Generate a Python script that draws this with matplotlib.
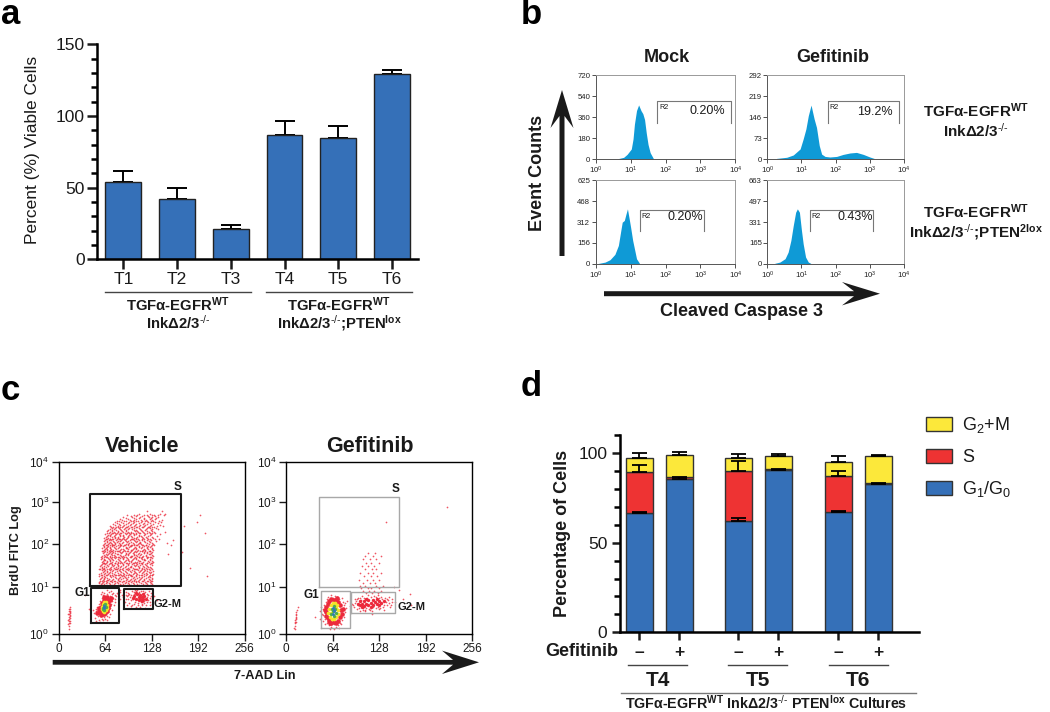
import matplotlib
matplotlib.use('Agg')
import numpy as np
import matplotlib.pyplot as plt
from matplotlib.lines import Line2D
from matplotlib.patches import Polygon
from matplotlib.ticker import MultipleLocator, NullLocator

plt.rcParams['font.family'] = ['Liberation Sans', 'DejaVu Sans']
plt.rcParams['mathtext.fontset'] = 'custom'
plt.rcParams['mathtext.rm'] = 'Liberation Sans'
plt.rcParams['mathtext.it'] = 'Liberation Sans:italic'
plt.rcParams['mathtext.bf'] = 'Liberation Sans:bold'
plt.rcParams['mathtext.default'] = 'regular'

W, H = 1050, 712
BLUE = '#3570b8'
RED = '#ee3333'
YELLOW = '#fce83a'
HIST = '#0f9ad6'
DOT = '#ec2a3c'
INK = '#1a1a1a'

# ============================================================
# Panel a
# ============================================================
a_labels = ['T1', 'T2', 'T3', 'T4', 'T5', 'T6']
a_values = [54, 42, 21, 87, 85, 129.5]
a_errors = [7.5, 8, 3, 9.5, 8, 2.5]

# ============================================================
# Panel b, histograms: position as log10 of the channel, then counts
# ============================================================
mock_top_pos = [0.64, 0.80, 0.90, 1.02, 1.07, 1.11, 1.17, 1.23, 1.30, 1.35, 1.40, 1.45, 1.50, 1.56, 1.66]
mock_top_cnt = [3, 14, 40, 86, 172, 300, 417, 465, 415, 390, 340, 222, 125, 55, 0]
gef_top_pos = [0.27, 0.57, 0.76, 0.96, 1.05, 1.13, 1.20, 1.28, 1.37, 1.44, 1.52, 1.59, 1.69, 1.83, 2.03, 2.22, 2.42, 2.61, 2.81, 3.00, 3.15]
gef_top_cnt = [2, 6, 14, 35, 70, 105, 151, 188, 140, 110, 47, 17, 9, 7, 9, 16, 21, 23, 16, 7, 1]
mock_bot_pos = [0.08, 0.27, 0.41, 0.55, 0.65, 0.72, 0.76, 0.82, 0.87, 0.91, 0.96, 1.00, 1.06, 1.13, 1.17, 1.25]
mock_bot_cnt = [2, 12, 30, 70, 137, 249, 311, 324, 374, 411, 336, 274, 174, 87, 37, 5]
gef_bot_pos = [0.22, 0.37, 0.52, 0.61, 0.69, 0.76, 0.83, 0.88, 0.94, 1.00, 1.05, 1.12, 1.20, 1.27]
gef_bot_cnt = [3, 13, 40, 92, 185, 304, 409, 436, 409, 264, 158, 53, 13, 3]

# ============================================================
# Panel c: channel, log10 of the signal
# ============================================================
s_rows_left = {
    1.16: [58, 63, 71, 76, 84, 89, 97, 103, 108, 116, 122, 128],
    1.20: [56, 61, 67, 74, 80, 87, 92, 99, 106, 111, 119, 125],
    1.24: [59, 65, 70, 78, 83, 90, 95, 101, 109, 114, 121, 127],
    1.28: [57, 62, 69, 75, 82, 86, 94, 100, 105, 112, 118, 124, 129],
    1.32: [60, 64, 72, 77, 85, 91, 96, 104, 110, 115, 123, 126],
    1.36: [58, 66, 73, 79, 81, 88, 93, 98, 107, 113, 120, 128],
    1.40: [56, 63, 68, 76, 84, 90, 97, 102, 108, 117, 122, 130],
    1.44: [61, 67, 71, 78, 86, 92, 99, 105, 111, 116, 124, 127],
    1.48: [59, 64, 70, 75, 83, 89, 95, 101, 109, 113, 119, 126],
    1.52: [57, 62, 69, 77, 80, 87, 94, 103, 106, 115, 121, 129],
    1.56: [60, 65, 72, 79, 85, 91, 98, 100, 110, 118, 123, 125],
    1.60: [58, 66, 74, 76, 82, 88, 96, 104, 107, 112, 120, 128],
    1.64: [61, 63, 71, 78, 84, 93, 97, 102, 111, 114, 122, 127],
    1.68: [59, 67, 73, 81, 86, 90, 99, 105, 108, 116, 124, 130],
    1.72: [62, 64, 70, 75, 83, 92, 95, 101, 109, 117, 119, 126],
    1.76: [60, 68, 72, 77, 85, 89, 94, 103, 106, 113, 121, 128],
    1.80: [58, 65, 71, 79, 82, 87, 98, 100, 110, 115, 123, 125],
    1.84: [63, 66, 74, 76, 84, 91, 96, 104, 107, 112, 120, 129],
    1.88: [61, 69, 73, 78, 86, 93, 97, 102, 111, 118, 122, 127],
    1.92: [59, 64, 72, 80, 83, 88, 95, 105, 108, 114, 124, 126],
    1.96: [62, 67, 70, 75, 85, 90, 99, 101, 109, 116, 119, 130],
    2.00: [60, 65, 71, 77, 82, 92, 94, 103, 106, 113, 121, 128],
    2.04: [63, 68, 74, 79, 84, 89, 98, 100, 110, 117, 123, 127],
    2.08: [61, 66, 73, 76, 86, 91, 96, 104, 107, 115, 120, 131],
    2.12: [64, 69, 72, 78, 83, 87, 97, 102, 111, 112, 122, 129],
    2.16: [62, 67, 75, 81, 85, 93, 95, 105, 108, 118, 124, 134],
    2.20: [65, 70, 74, 80, 84, 90, 99, 101, 109, 114, 126, 138],
    2.24: [63, 68, 77, 82, 88, 94, 103, 106, 116, 121, 130],
    2.28: [66, 71, 76, 85, 89, 96, 100, 110, 113, 123, 135],
    2.32: [64, 72, 79, 83, 92, 98, 104, 107, 119, 127, 140],
    2.36: [67, 74, 78, 86, 91, 97, 102, 111, 117, 125, 133],
    2.40: [66, 73, 81, 87, 93, 105, 108, 115, 122, 129],
    2.44: [70, 76, 84, 90, 95, 101, 112, 120, 128, 137],
    2.48: [72, 79, 85, 94, 99, 106, 114, 124, 131],
    2.52: [71, 82, 88, 96, 103, 110, 118, 126, 135, 143],
    2.56: [75, 83, 92, 100, 107, 116, 121, 130],
    2.60: [77, 86, 97, 104, 113, 123, 133, 141],
    2.64: [80, 90, 102, 109, 119, 127, 138],
    2.68: [84, 95, 106, 117, 125, 132],
    2.72: [88, 101, 112, 124, 129, 136],
    2.76: [94, 108, 121, 131, 145],
    2.80: [110, 126, 139, 146],
    2.86: [122, 142],
}
s_rows_left_between = {
    1.14: [60, 67, 73, 81, 86, 94, 100, 111, 119, 125],
    1.18: [55, 59, 65, 69, 78, 82, 91, 95, 102, 113, 120, 127],
    1.22: [57, 63, 72, 76, 85, 88, 97, 104, 107, 116, 123, 129],
    1.26: [61, 66, 68, 74, 81, 92, 98, 103, 110, 117, 125],
    1.30: [58, 63, 67, 79, 83, 88, 93, 102, 108, 113, 120, 128],
    1.34: [56, 62, 70, 75, 87, 90, 99, 101, 106, 118, 124],
    1.38: [60, 65, 71, 77, 83, 86, 95, 100, 111, 115, 126, 129],
    1.42: [58, 64, 69, 74, 81, 89, 94, 104, 107, 114, 120, 125],
    1.46: [62, 66, 73, 80, 85, 91, 98, 103, 112, 118, 122, 130],
    1.50: [56, 61, 67, 72, 79, 84, 93, 97, 105, 108, 117, 124],
    1.54: [59, 63, 70, 76, 82, 88, 96, 102, 111, 114, 120, 127],
    1.58: [57, 62, 68, 75, 81, 86, 93, 99, 105, 109, 116, 122],
    1.62: [60, 64, 69, 73, 80, 89, 95, 101, 108, 115, 119, 126],
    1.66: [63, 65, 72, 77, 82, 87, 94, 103, 106, 113, 121, 128],
    1.70: [61, 66, 71, 79, 85, 91, 97, 100, 110, 112, 123, 129],
    1.74: [58, 63, 69, 74, 81, 88, 96, 102, 107, 115, 118, 125],
    1.78: [62, 67, 73, 76, 83, 90, 93, 105, 111, 114, 122, 127],
    1.82: [60, 64, 70, 78, 86, 89, 99, 101, 108, 116, 120, 130],
    1.86: [65, 68, 72, 80, 82, 92, 95, 103, 109, 113, 124, 126],
    1.90: [63, 66, 71, 75, 84, 87, 98, 104, 106, 117, 121, 128],
    1.94: [61, 69, 74, 77, 81, 91, 94, 100, 112, 115, 119, 125],
    1.98: [64, 67, 72, 79, 86, 88, 96, 102, 107, 118, 123, 129],
    2.02: [62, 66, 70, 76, 83, 93, 97, 105, 111, 114, 122, 126],
    2.06: [65, 71, 75, 81, 85, 90, 99, 101, 108, 116, 120, 128],
    2.10: [63, 68, 73, 78, 84, 92, 95, 103, 109, 113, 124, 130],
    2.14: [66, 70, 76, 80, 88, 94, 100, 106, 112, 119, 125],
    2.18: [64, 69, 72, 79, 86, 91, 98, 104, 110, 115, 121, 127],
    2.22: [67, 71, 75, 83, 87, 93, 102, 107, 117, 123, 132],
    2.26: [65, 73, 78, 81, 90, 95, 101, 108, 114, 120, 128],
    2.30: [68, 70, 77, 84, 88, 97, 103, 111, 118, 125],
    2.34: [69, 75, 80, 85, 94, 99, 106, 112, 122, 129],
    2.38: [71, 76, 82, 89, 95, 100, 109, 116, 124, 131],
    2.42: [68, 74, 79, 86, 92, 103, 107, 113, 119, 127],
    2.46: [73, 78, 83, 91, 97, 104, 110, 121, 126, 134],
    2.50: [75, 81, 87, 93, 101, 108, 116, 123, 129],
    2.54: [77, 84, 90, 98, 105, 112, 119, 127, 139],
    2.58: [80, 89, 95, 102, 110, 117, 125, 136],
    2.62: [83, 93, 100, 107, 115, 122, 130],
    2.66: [87, 98, 104, 113, 120, 128, 142],
    2.70: [92, 103, 110, 118, 127, 134],
    2.74: [99, 106, 115, 123, 133],
    2.78: [104, 118, 128, 137],
}
outliers_left = [(194, 2.77), (191, 2.61), (201, 2.34), (172, 2.52), (158, 2.19), (149, 2.11),
                 (170, 1.91), (150, 1.85), (181, 1.53), (204, 1.35), (155, 2.06), (146, 2.38), (36, 0.90)]
ribbon_left = [(15, 0.62), (16, 0.58), (14, 0.54), (15, 0.50), (13, 0.46), (16, 0.44), (14, 0.40), (15, 0.36),
               (13, 0.32), (14, 0.30), (15, 0.26), (13, 0.22), (14, 0.18), (14, 0.12), (15, 0.48), (14, 0.34),
               (15, 0.42), (14, 0.46), (15, 0.30), (14, 0.24), (16, 0.52), (14, 0.58)]
g1_sparse_left = [(50, 0.36), (52, 0.30), (54, 0.42), (49, 0.48), (52, 0.53), (55, 0.33), (57, 0.28), (59, 0.35),
                  (61, 0.31), (63, 0.38), (56, 0.47), (53, 0.62), (51, 0.58), (55, 0.70), (57, 0.77), (59, 0.83),
                  (61, 0.90), (63, 0.95), (65, 0.86), (67, 0.92), (69, 0.97), (71, 0.88), (73, 0.93), (75, 0.84),
                  (77, 0.90), (79, 0.87), (74, 0.76), (72, 0.70), (76, 0.66), (70, 0.60), (73, 0.55), (68, 0.50),
                  (71, 0.45), (66, 0.42), (69, 0.38), (64, 0.34), (58, 0.41), (60, 0.44), (66, 0.32), (77, 0.74),
                  (82, 0.92), (85, 0.80), (83, 0.88), (47, 0.55), (42, 0.58), (80, 0.95), (72, 1.00), (66, 1.03),
                  (60, 0.98), (58, 0.93), (84, 0.98), (87, 0.90), (78, 0.81), (75, 0.96)]
g1_red_left = [(56, 0.55), (58, 0.62), (60, 0.72), (62, 0.78), (64, 0.82), (66, 0.80), (68, 0.74), (69, 0.68),
               (68, 0.60), (66, 0.54), (64, 0.48), (62, 0.45), (60, 0.47), (57, 0.50), (59, 0.56), (65, 0.72),
               (63, 0.86), (70, 0.78), (55, 0.60), (72, 0.84), (58, 0.44), (67, 0.86), (53, 0.48)]
g1_yellow_left = [(59, 0.58), (60, 0.63), (61, 0.70), (63, 0.74), (65, 0.74), (66, 0.68), (66, 0.61), (65, 0.55),
                  (63, 0.51), (61, 0.52)]
g1_green_left = [(60.5, 0.60), (62, 0.66), (64, 0.69), (64.5, 0.62), (63, 0.56), (61.5, 0.58)]
g1_blue_left = [(62, 0.62), (63, 0.65), (62.5, 0.60)]
g2_sparse_left = [(92, 0.98), (95, 0.90), (93, 0.80), (97, 0.72), (99, 0.64), (94, 0.68), (101, 1.00), (104, 0.97),
                  (100, 0.60), (103, 0.70), (106, 0.62), (108, 1.02), (110, 0.98), (112, 0.63), (114, 0.70),
                  (116, 1.00), (118, 0.96), (120, 0.67), (122, 0.73), (123, 0.90), (125, 0.84), (127, 0.95),
                  (126, 0.74), (128, 0.80), (98, 0.85), (96, 0.96), (119, 0.60), (109, 0.72), (131, 0.88), (88, 0.85),
                  (84, 1.02), (135, 0.79), (102, 0.82), (124, 1.0), (91, 0.74), (94, 0.87), (97, 0.93), (99, 0.78),
                  (101, 0.68), (103, 0.92), (105, 0.74), (107, 0.99), (109, 0.66), (111, 0.95), (113, 0.74),
                  (115, 0.66), (117, 0.76), (119, 0.97), (121, 0.92), (123, 0.78), (125, 0.66), (127, 0.88),
                  (129, 0.70), (96, 0.82), (100, 0.90), (92, 0.90), (121, 0.86), (118, 0.72), (105, 1.01), (113, 1.0)]
g2_red_left = [(104, 0.88), (106, 0.82), (108, 0.92), (110, 0.86), (112, 0.90), (112, 0.80), (114, 0.86), (116, 0.92),
               (116, 0.82), (118, 0.88), (110, 0.78), (106, 0.94), (102, 0.84), (120, 0.80), (114, 0.76)]

s_rows_right = {
    0.94: [110, 118, 126],
    1.00: [106, 114, 121, 130],
    1.06: [103, 112, 117, 128],
    1.12: [101, 109, 124, 133],
    1.18: [105, 115, 122],
    1.26: [100, 111, 119, 127],
    1.34: [107, 116, 125],
    1.42: [102, 113, 120, 131],
    1.50: [108, 118, 124],
    1.58: [104, 112, 121],
    1.66: [110, 117, 127],
    1.74: [106, 115, 123],
    1.82: [109, 119, 130],
    1.88: [112, 122],
}
outliers_right = [(221, 2.96), (137, 2.61), (170, 0.93), (160, 0.80), (172, 0.66), (155, 1.02), (148, 1.10), (40, 0.38)]
ribbon_right = [(16, 0.62), (15, 0.56), (14, 0.50), (14, 0.44), (13, 0.40), (14, 0.36), (12, 0.32), (13, 0.28),
                (12, 0.24), (12, 0.18), (11, 0.14), (12, 0.10), (13, 0.34), (12, 0.28), (13, 0.46)]
g1_sparse_right = [(51, 0.30), (53, 0.22), (55, 0.38), (49, 0.46), (50, 0.58), (52, 0.68), (54, 0.74), (56, 0.82),
                   (58, 0.86), (61, 0.90), (64, 0.84), (67, 0.88), (70, 0.85), (73, 0.80), (76, 0.83), (78, 0.74),
                   (80, 0.68), (82, 0.60), (81, 0.50), (79, 0.40), (77, 0.32), (74, 0.26), (71, 0.20), (68, 0.16),
                   (65, 0.22), (62, 0.16), (59, 0.20), (56, 0.26), (47, 0.34), (84, 0.76), (46, 0.52), (60, 0.12),
                   (48, 0.62), (51, 0.44), (53, 0.34), (79, 0.58), (81, 0.72), (75, 0.22), (72, 0.14), (66, 0.10)]
g1_red_right = [(54, 0.50), (55, 0.62), (57, 0.70), (59, 0.76), (62, 0.80), (65, 0.78), (68, 0.78), (71, 0.74),
                (74, 0.66), (75, 0.56), (76, 0.46), (74, 0.38), (71, 0.30), (68, 0.26), (65, 0.28), (62, 0.26),
                (59, 0.30), (57, 0.36), (55, 0.42), (78, 0.58), (53, 0.56), (70, 0.84), (60, 0.24)]
g1_yellow_right = [(58, 0.48), (59, 0.58), (61, 0.68), (64, 0.72), (67, 0.72), (70, 0.66), (71, 0.56), (71, 0.46),
                   (69, 0.38), (66, 0.34), (63, 0.34), (60, 0.38), (61, 0.48), (68, 0.60)]
g1_green_right = [(62, 0.46), (63, 0.58), (65, 0.64), (67, 0.58), (68, 0.48), (65, 0.42), (64, 0.52)]
g1_blue_right = [(64, 0.60), (66, 0.56), (64, 0.47), (65, 0.52)]
g2_sparse_right = [(93, 0.62), (95, 0.72), (94, 0.80), (97, 0.58), (99, 0.84), (101, 0.54), (104, 0.88), (106, 0.56),
                   (109, 0.52), (112, 0.90), (115, 0.56), (118, 0.54), (121, 0.88), (124, 0.60), (127, 0.57),
                   (130, 0.86), (133, 0.62), (136, 0.84), (138, 0.66), (140, 0.78), (142, 0.72), (144, 0.68),
                   (146, 0.80), (135, 0.56), (90, 0.70), (103, 0.78), (110, 0.60), (88, 0.64), (150, 0.74),
                   (126, 0.90), (118, 0.46), (141, 0.86), (99, 0.66), (107, 0.84), (96, 0.76), (92, 0.68), (100, 0.60),
                   (102, 0.84), (105, 0.60), (108, 0.56), (111, 0.84), (114, 0.58), (117, 0.60), (120, 0.62),
                   (123, 0.86), (126, 0.62), (129, 0.60), (132, 0.80), (135, 0.66), (137, 0.74), (139, 0.82),
                   (143, 0.62), (145, 0.74), (97, 0.82), (116, 0.86), (128, 0.84)]
g2_red_right = [(98, 0.70), (101, 0.66), (101, 0.76), (104, 0.70), (107, 0.64), (107, 0.76), (110, 0.70), (113, 0.66),
                (113, 0.78), (116, 0.72), (119, 0.68), (119, 0.78), (122, 0.74), (125, 0.70), (125, 0.80),
                (128, 0.76), (131, 0.72), (134, 0.76), (104, 0.62), (116, 0.62), (128, 0.66), (110, 0.80)]

# gates: channel from, channel to, log signal from, log signal to
gates_left = [(43.1, 168.0, 1.12, 3.268), (44.0, 83.6, 0.257, 1.058), (90.4, 129.4, 0.568, 1.043)]
gates_right = [(45.4, 154.6, 1.097, 3.198), (47.3, 87.2, 0.125, 1.004), (89.5, 150.0, 0.475, 0.965)]
c_xticks = [0, 64, 128, 192, 256]
c_ytick_pos = [0, 1.097, 2.086, 3.082, 4]

# ============================================================
# Panel d
# ============================================================
d_pos = [1, 2, 3.475, 4.475, 5.975, 6.975]
d_signs = ['\u2013', '+', '\u2013', '+', '\u2013', '+']
g1_values = [66.5, 85.8, 62.2, 90.7, 67, 82.7]
s_values = [23.3, 0.8, 27.7, 0.5, 20.3, 0.5]
g2_values = [7.4, 12.4, 7.5, 7.5, 8, 15.1]
g1_err = [0.9, 0.9, 1.8, 0.5, 0.6, 0.5]
s_err = [3.7, 0, 6, 0, 3, 0]
g2_err = [3, 1.7, 2.2, 1.1, 3, 1]

fig = plt.figure(figsize=(W / 100, H / 100), dpi=100, facecolor='white')


def px_axes(x0, y0, x1, y1):
    return fig.add_axes([x0 / W, 1 - y1 / H, (x1 - x0) / W, (y1 - y0) / H])


def ptext(x, y, s, size, **kw):
    kw.setdefault('color', INK)
    fig.text(x / W, 1 - y / H, s, fontsize=size, ha=kw.pop('ha', 'center'), va=kw.pop('va', 'center'), **kw)


def pline(x0, y0, x1, y1, lw=1.0, color='#444444'):
    fig.add_artist(Line2D([x0 / W, x1 / W], [1 - y0 / H, 1 - y1 / H], lw=lw, color=color))


def big_arrow(tail, tip, half_shaft, head_len, notch, half_head):
    # black arrow with a swept back head, corners given in figure pixels
    (tx, ty), (hx, hy) = tail, tip
    d = np.array([hx - tx, hy - ty], dtype=float)
    d /= np.hypot(*d)
    n = np.array([-d[1], d[0]])
    t, h = np.array(tail, float), np.array(tip, float)
    pts = [t + n * half_shaft, h - d * notch + n * half_shaft, h - d * head_len + n * half_head, h,
           h - d * head_len - n * half_head, h - d * notch - n * half_shaft, t - n * half_shaft]
    pts = [(p[0] / W, 1 - p[1] / H) for p in pts]
    fig.add_artist(Polygon(pts, closed=True, facecolor=INK, edgecolor='none', transform=fig.transFigure))


# panel letters
ptext(1, 15, 'a', 25, ha='left', fontweight='bold', color='black')
ptext(521, 15, 'b', 25, ha='left', fontweight='bold', color='black')
ptext(1, 391, 'c', 25, ha='left', fontweight='bold', color='black')
ptext(521, 387, 'd', 25, ha='left', fontweight='bold', color='black')

# ---------- a ----------
ax = px_axes(97, 44.5, 418, 259.5)
xa = np.arange(1, 7)
ax.bar(xa, a_values, width=0.67, color=BLUE, edgecolor='#222222', linewidth=1.0, zorder=2)
ax.errorbar(xa, a_values, yerr=[np.zeros(6), a_errors], fmt='none', ecolor='black', elinewidth=1.4,
            capsize=7.2, capthick=1.4, zorder=1)
ax.set_xlim(0.507, 6.487)
ax.set_ylim(0, 150)
ax.set_xticks(xa)
ax.set_xticklabels(a_labels)
ax.yaxis.set_major_locator(MultipleLocator(50))
ax.yaxis.set_minor_locator(MultipleLocator(10))
for side in ['top', 'right']:
    ax.spines[side].set_visible(False)
for side in ['left', 'bottom']:
    ax.spines[side].set_linewidth(1.8)
ax.tick_params(axis='both', which='major', labelsize=12.5, width=1.8, length=7, pad=2, colors=INK)
ax.tick_params(axis='y', which='minor', width=1.8, length=4.5)
ptext(33, 150, 'Percent (%) Viable Cells', 12.5, rotation=90)
pline(105, 292, 251, 292)
pline(266, 292, 412, 292)
ptext(178, 305, r'TGF$\alpha$-EGFR$^{WT}$', 10.7, fontweight='bold')
ptext(178, 323, r'Ink$\Delta$2/3$^{\text{-/-}}$', 10.7, fontweight='bold')
ptext(339, 305, r'TGF$\alpha$-EGFR$^{WT}$', 10.7, fontweight='bold')
ptext(339, 323, r'Ink$\Delta$2/3$^{\text{-/-}}$;PTEN$^{lox}$', 10.7, fontweight='bold')

# ---------- b ----------
hist_panels = [
    (595.7, 75.3, 735.3, 159, mock_top_pos, mock_top_cnt, [0, 180, 360, 540, 720], (58, 7350, 313, 499), (664.5, 107.5), (707, 111), '0.20%'),
    (767.3, 75.3, 904, 159, gef_top_pos, gef_top_cnt, [0, 73, 146, 219, 292], (60, 7140, 127, 202), (834, 107.5), (875, 112), '19.2%'),
    (595.7, 180.3, 735.3, 263.7, mock_bot_pos, mock_bot_cnt, [0, 156, 312, 468, 625], (18.2, 1268, 245, 405), (645.5, 216), (685, 217), '0.20%'),
    (767.3, 180.3, 904, 263.7, gef_bot_pos, gef_bot_cnt, [0, 165, 331, 497, 663], (18.1, 1265, 260, 430), (816.5, 216), (855, 217), '0.43%'),
]
for x0, y0, x1, y1, pos, cnt, yt, gate, r2_xy, pct_xy, pct in hist_panels:
    ax = px_axes(x0, y0, x1, y1)
    ax.fill_between(10 ** np.array(pos), cnt, 0, color=HIST, linewidth=0)
    ax.set_xscale('log')
    ax.set_xlim(1, 1e4)
    ax.set_ylim(0, yt[-1])
    ax.set_yticks(yt)
    ax.xaxis.set_minor_locator(NullLocator())
    ax.tick_params(axis='both', labelsize=5.6, width=0.6, length=3, pad=1, color='#333333', labelcolor='#222222')
    for side in ['top', 'right']:
        ax.spines[side].set_color('#999999')
    for side in ax.spines:
        ax.spines[side].set_linewidth(0.7)
    ax.spines['bottom'].set_color('#555555')
    ax.spines['left'].set_color('#555555')
    gx0, gx1, gy0, gy1 = gate
    ax.plot([gx0, gx0, gx1, gx1], [gy0, gy1, gy1, gy0], color='#777777', lw=0.8)
    ptext(r2_xy[0], r2_xy[1], 'R2', 5.2)
    ptext(pct_xy[0], pct_xy[1], pct, 9)
ptext(667, 58, 'Mock', 13, fontweight='bold')
ptext(833, 58, 'Gefitinib', 13, fontweight='bold')
ptext(537, 173, 'Event Counts', 13, fontweight='bold', rotation=90)
big_arrow((562, 256), (562, 90), 2.5, 38, 26, 11.5)
big_arrow((604, 293.7), (880, 293.7), 2.5, 38, 26, 11.7)
ptext(742, 312, 'Cleaved Caspase 3', 13, fontweight='bold')
ptext(976, 111, r'TGF$\alpha$-EGFR$^{WT}$', 11, fontweight='bold')
ptext(976, 131, r'Ink$\Delta$2/3$^{\text{-/-}}$', 11, fontweight='bold')
ptext(976, 212, r'TGF$\alpha$-EGFR$^{WT}$', 11, fontweight='bold')
ptext(976, 232, r'Ink$\Delta$2/3$^{\text{-/-}}$;PTEN$^{2lox}$', 11, fontweight='bold')


# ---------- c ----------
def flatten(rows):
    return [(x, y) for y, xs in rows.items() for x in xs]


def dots(ax, pts, size, color=DOT, alpha=1.0):
    xs = [p[0] for p in pts]
    ys = [10 ** p[1] for p in pts]
    ax.scatter(xs, ys, s=size, c=color, alpha=alpha, linewidths=0, marker='o')


dot_panels = [
    (58.7, gates_left, '#1a1a1a', 1.5,
     [flatten(s_rows_left), flatten(s_rows_left_between), outliers_left, ribbon_left, g1_sparse_left, g2_sparse_left],
     g1_red_left, g1_yellow_left, g1_green_left, g1_blue_left, g2_red_left),
    (286.3, gates_right, '#a8a8a8', 1.0,
     [flatten(s_rows_right), outliers_right, ribbon_right, g1_sparse_right, g2_sparse_right],
     g1_red_right, g1_yellow_right, g1_green_right, g1_blue_right, g2_red_right),
]
for x0, gates, gate_col, gate_lw, sparse, red, yellow, green, blue, g2red in dot_panels:
    ax = px_axes(x0, 462.3, x0 + 186, 633.7)
    ax.set_yscale('log')
    ax.set_xlim(0, 256)
    ax.set_ylim(1, 1e4)
    for pts in sparse:
        dots(ax, pts, 1.5, alpha=0.8)
    dots(ax, g2red, 6)
    dots(ax, red, 11)
    dots(ax, yellow, 7, color='#f5e32a')
    dots(ax, green, 6, color='#4fae4a')
    dots(ax, blue, 4, color='#2f78b8')
    for gx0, gx1, gy0, gy1 in gates:
        ax.plot([gx0, gx1, gx1, gx0, gx0], [10 ** gy0, 10 ** gy0, 10 ** gy1, 10 ** gy1, 10 ** gy0],
                color=gate_col, lw=gate_lw)
    ax.set_xticks(c_xticks)
    ax.set_yticks([10 ** v for v in c_ytick_pos])
    ax.set_yticklabels([f'$10^{{{i}}}$' for i in range(5)])
    ax.yaxis.set_minor_locator(NullLocator())
    ax.tick_params(axis='both', labelsize=8.5, width=1.0, length=5, pad=2, colors=INK)
    for side in ax.spines:
        ax.spines[side].set_linewidth(1.0)
ptext(141.7, 446, 'Vehicle', 15.5, fontweight='bold')
ptext(370, 446, 'Gefitinib', 15.5, fontweight='bold')
ptext(16, 550, 'BrdU FITC Log', 9.2, fontweight='bold', rotation=90)
ptext(178, 486.5, 'S', 8.5, fontweight='bold')
ptext(82, 592.5, 'G1', 8.5, fontweight='bold')
ptext(168, 604, 'G2-M', 8, fontweight='bold')
ptext(396, 489.5, 'S', 8.5, fontweight='bold')
ptext(311, 594.5, 'G1', 8.5, fontweight='bold')
ptext(412, 607, 'G2-M', 8, fontweight='bold')
big_arrow((52.7, 662.3), (479, 662.3), 2.4, 37, 26, 11.7)
ptext(265, 676, '7-AAD Lin', 9.2, fontweight='bold')

# ---------- d ----------
ax = px_axes(620, 435, 919, 632.3)
g1_arr = np.array(g1_values)
s_arr = np.array(s_values)
g2_arr = np.array(g2_values)
b1 = ax.bar(d_pos, g1_arr, width=0.667, color=BLUE, edgecolor='#333333', linewidth=1.0, label=r'G$_1$/G$_0$')
b2 = ax.bar(d_pos, s_arr, width=0.667, bottom=g1_arr, color=RED, edgecolor='#333333', linewidth=1.0, label='S')
b3 = ax.bar(d_pos, g2_arr, width=0.667, bottom=g1_arr + s_arr, color=YELLOW, edgecolor='#333333', linewidth=1.0,
            label=r'G$_2$+M')
zero = np.zeros(6)
ax.errorbar(d_pos, g1_arr, yerr=[zero, g1_err], fmt='none', ecolor='black', elinewidth=1.3, capsize=5.4, capthick=1.3)
err_x = [p for p, e in zip(d_pos, s_err) if e > 0]
err_y = [v for v, e in zip(g1_arr + s_arr, s_err) if e > 0]
err_s = [e for e in s_err if e > 0]
ax.errorbar(err_x, err_y, yerr=[np.zeros(len(err_s)), err_s], fmt='none', ecolor='black', elinewidth=1.3,
            capsize=5.4, capthick=1.3)
ax.errorbar(d_pos, g1_arr + s_arr + g2_arr, yerr=[zero, g2_err], fmt='none', ecolor='black', elinewidth=1.3,
            capsize=5.4, capthick=1.3)
ax.set_xlim(0.517, 7.992)
ax.set_ylim(0, 110.2)
ax.set_xticks(d_pos)
ax.set_xticklabels(d_signs, fontweight='bold')
ax.yaxis.set_major_locator(MultipleLocator(50))
ax.yaxis.set_minor_locator(MultipleLocator(10))
for side in ['top', 'right']:
    ax.spines[side].set_visible(False)
for side in ['left', 'bottom']:
    ax.spines[side].set_linewidth(1.8)
ax.tick_params(axis='both', which='major', labelsize=12.5, width=1.8, length=6, pad=3, colors=INK)
ax.tick_params(axis='y', which='minor', width=1.8, length=4.5)
fig.legend(handles=[b3, b2, b1], loc='upper left', bbox_to_anchor=(926 / W, 1 - 415 / H), frameon=False,
           fontsize=13, handlelength=1.42, handleheight=0.83, labelspacing=0.75, handletextpad=0.6, borderpad=0,
           borderaxespad=0, labelcolor=INK)
ptext(562.7, 533.3, 'Percentage of Cells', 13, fontweight='bold', rotation=90)
ptext(581.7, 651.7, 'Gefitinib', 13, fontweight='bold')
pline(628, 665.3, 687, 665.3)
pline(728, 665.3, 787, 665.3)
pline(829, 665.3, 888, 665.3)
ptext(657.7, 680, 'T4', 15, fontweight='bold')
ptext(757.7, 680, 'T5', 15, fontweight='bold')
ptext(858, 680, 'T6', 15, fontweight='bold')
pline(621, 692.7, 915.7, 692.7, lw=1.0, color='#777777')
ptext(766, 702.5, r'TGF$\alpha$-EGFR$^{WT}$ Ink$\Delta$2/3$^{\text{-/-}}$ PTEN$^{lox}$ Cultures', 10.3, fontweight='bold')

plt.savefig('out.png', dpi=100)
